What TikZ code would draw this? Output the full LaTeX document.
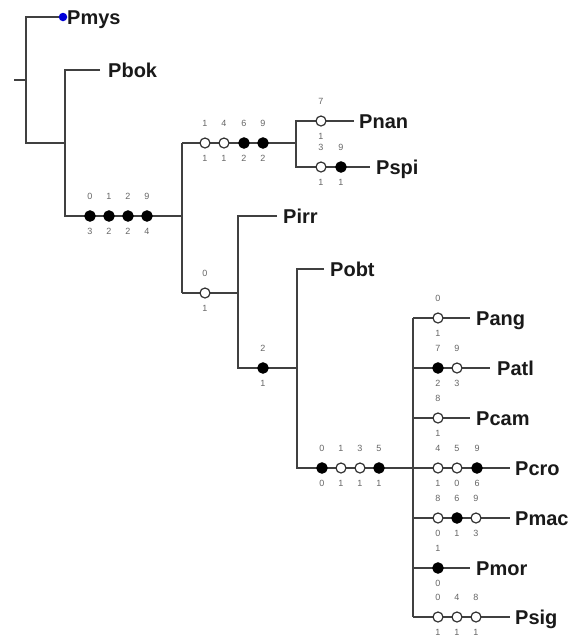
\documentclass[tikz,border=0pt]{standalone}
\usepackage{fontspec}
\setmainfont{Liberation Sans}
\newcommand\mrk[5]{%
  \node[#3] (#1) at (#2) {};
  \path (#1) ++(0,-20) node[lab] (#1-t) {#4};
  \path (#1) ++(0,15) node[lab] (#1-b) {#5};}
\begin{document}
\begin{tikzpicture}[x=1pt,y=-1pt,
  br/.style={draw=black!75, line width=1.4pt},
  taxon/.style={anchor=west, font=\bfseries\fontsize{20}{20}\selectfont, inner sep=0pt,
    text height=14.3pt, text depth=0pt, text=black!90},
  openm/.style={circle, draw=black!80, fill=white, line width=1.2pt, minimum size=10pt, inner sep=0pt},
  fillm/.style={circle, draw=black, fill=black, line width=1pt, minimum size=10.5pt, inner sep=0pt},
  lab/.style={font=\fontsize{9}{9}\selectfont, text=black!60, inner sep=0pt, text height=6.4pt, text depth=0pt},
]
\useasboundingbox[fill=white] (0,0) rectangle (571,641);

% junction coordinates
\coordinate (r0) at (14,80);
\coordinate (r1) at (26,80);
\coordinate (rt) at (26,17);
\coordinate (rb) at (26,143);
\coordinate (b1t) at (65,70);
\coordinate (b1m) at (65,143);
\coordinate (b1b) at (65,216);
\coordinate (Ab) at (182,216);
\coordinate (At) at (182,143);
\coordinate (Abot) at (182,293);
\coordinate (Nt) at (296,121);
\coordinate (Nm) at (296,143);
\coordinate (Nb) at (296,167);
\coordinate (Bt) at (238,216);
\coordinate (Bm) at (238,293);
\coordinate (Bb) at (238,368);
\coordinate (Ct) at (297,269);
\coordinate (Cm) at (297,368);
\coordinate (Cb) at (297,468);
\coordinate (Dt) at (413,318);
\coordinate (Dm) at (413,468);
\coordinate (Db) at (413,617);
% leaf ends
\coordinate (eMys) at (63,17);
\coordinate (eBok) at (100,70);
\coordinate (eNan) at (354,121);
\coordinate (eSpi) at (370,167);
\coordinate (eIrr) at (277,216);
\coordinate (eObt) at (324,269);
\coordinate (eAng) at (470,318);
\coordinate (eAtl) at (490,368);
\coordinate (eCam) at (470,418);
\coordinate (eCro) at (510,468);
\coordinate (eMac) at (510,518);
\coordinate (eMor) at (470,568);
\coordinate (eSig) at (510,617);
\coordinate (Dang) at (413,318);
\coordinate (Datl) at (413,368);
\coordinate (Dcam) at (413,418);
\coordinate (Dcro) at (413,468);
\coordinate (Dmac) at (413,518);
\coordinate (Dmor) at (413,568);
\coordinate (Dsig) at (413,617);

% branches
\draw[br] (r0) -- (r1);
\draw[br] (eMys) -- (rt) -- (rb) -- (b1m);
\draw[br] (eBok) -- (b1t) -- (b1b) -- (Ab);
\draw[br] (At) -- (Abot);
\draw[br] (At) -- (Nm);
\draw[br] (eNan) -- (Nt) -- (Nb) -- (eSpi);
\draw[br] (Abot) -- (Bm);
\draw[br] (eIrr) -- (Bt) -- (Bb) -- (Cm);
\draw[br] (eObt) -- (Ct) -- (Cb) -- (Dm);
\draw[br] (Dt) -- (Db);
\draw[br] (Dang) -- (eAng);
\draw[br] (Datl) -- (eAtl);
\draw[br] (Dcam) -- (eCam);
\draw[br] (Dcro) -- (eCro);
\draw[br] (Dmac) -- (eMac);
\draw[br] (Dmor) -- (eMor);
\draw[br] (Dsig) -- (eSig);

% taxa
\node[circle, fill=blue!85!black, minimum size=8.5pt, inner sep=0pt] (mysdot) at (eMys) {};
\node[taxon] (Pmys) at (67,17) {Pmys};
\node[taxon] (Pbok) at (108,70) {Pbok};
\node[taxon] (Pnan) at (359,121) {Pnan};
\node[taxon] (Pspi) at (376,167) {Pspi};
\node[taxon] (Pirr) at (283,216) {Pirr};
\node[taxon] (Pobt) at (330,269) {Pobt};
\node[taxon] (Pang) at (476,318) {Pang};
\node[taxon] (Patl) at (497,368) {Patl};
\node[taxon] (Pcam) at (476,418) {Pcam};
\node[taxon] (Pcro) at (515,468) {Pcro};
\node[taxon] (Pmac) at (515,518) {Pmac};
\node[taxon] (Pmor) at (476,568) {Pmor};
\node[taxon] (Psig) at (515,617) {Psig};

% character markers
\mrk{m1a}{90,216}{fillm}{0}{3}
\mrk{m1b}{109,216}{fillm}{1}{2}
\mrk{m1c}{128,216}{fillm}{2}{2}
\mrk{m1d}{147,216}{fillm}{9}{4}
\mrk{m2a}{205,143}{openm}{1}{1}
\mrk{m2b}{224,143}{openm}{4}{1}
\mrk{m2c}{244,143}{fillm}{6}{2}
\mrk{m2d}{263,143}{fillm}{9}{2}
\mrk{mnan}{321,121}{openm}{7}{1}
\mrk{mspa}{321,167}{openm}{3}{1}
\mrk{mspb}{341,167}{fillm}{9}{1}
\mrk{m3a}{205,293}{openm}{0}{1}
\mrk{m4a}{263,368}{fillm}{2}{1}
\mrk{m5a}{322,468}{fillm}{0}{0}
\mrk{m5b}{341,468}{openm}{1}{1}
\mrk{m5c}{360,468}{openm}{3}{1}
\mrk{m5d}{379,468}{fillm}{5}{1}
\mrk{mang}{438,318}{openm}{0}{1}
\mrk{mata}{438,368}{fillm}{7}{2}
\mrk{matb}{457,368}{openm}{9}{3}
\mrk{mcam}{438,418}{openm}{8}{1}
\mrk{mcra}{438,468}{openm}{4}{1}
\mrk{mcrb}{457,468}{openm}{5}{0}
\mrk{mcrc}{477,468}{fillm}{9}{6}
\mrk{mmaa}{438,518}{openm}{8}{0}
\mrk{mmab}{457,518}{fillm}{6}{1}
\mrk{mmac}{476,518}{openm}{9}{3}
\mrk{mmor}{438,568}{fillm}{1}{0}
\mrk{msia}{438,617}{openm}{0}{1}
\mrk{msib}{457,617}{openm}{4}{1}
\mrk{msic}{476,617}{openm}{8}{1}
\end{tikzpicture}
\end{document}
